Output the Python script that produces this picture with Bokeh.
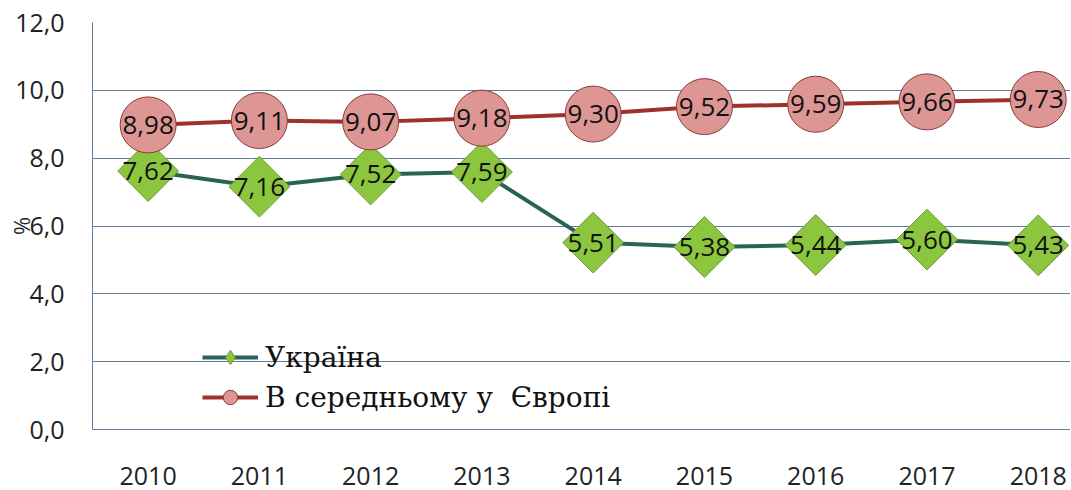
from bokeh.plotting import figure
from bokeh.models import ColumnDataSource, FixedTicker, Legend, LegendItem
from bokeh.core.properties import value
from bokeh.embed import file_html
from bokeh.resources import INLINE

years = [2010, 2011, 2012, 2013, 2014, 2015, 2016, 2017, 2018]
ukraine = [7.62, 7.16, 7.52, 7.59, 5.51, 5.38, 5.44, 5.60, 5.43]
europe = [8.98, 9.11, 9.07, 9.18, 9.30, 9.52, 9.59, 9.66, 9.73]
y_ticks = [0, 2, 4, 6, 8, 10, 12]
y_tick_labels = ["0,0", "2,0", "4,0", "6,0", "8,0", "10,0", "12,0"]
series_names = ["Україна", "В середньому у  Європі"]

def fmt(v):
    return f"{v:.2f}".replace(".", ",")

src_u = ColumnDataSource(dict(x=years, y=ukraine, t=[fmt(v) for v in ukraine]))
src_e = ColumnDataSource(dict(x=years, y=europe, t=[fmt(v) for v in europe]))

p = figure(width=1070, height=490, output_backend="svg", toolbar_location=None,
           x_range=(2009.5, 2018.29), y_range=(0, 12),
           min_border_left=92, min_border_right=0, min_border_top=22,
           min_border_bottom=61, outline_line_color=None)

grid_col = "#5f7b98"
p.xgrid.visible = False
p.ygrid.ticker = FixedTicker(ticks=y_ticks)
p.ygrid.grid_line_color = grid_col
p.ygrid.grid_line_width = 1.2

p.yaxis.ticker = FixedTicker(ticks=y_ticks)
p.yaxis.major_label_overrides = {t: l for t, l in zip(y_ticks, y_tick_labels)}
p.yaxis.major_label_text_font = "Open Sans"
p.yaxis.major_label_text_font_size = "25px"
p.yaxis.major_label_text_color = "#222222"
p.yaxis.major_tick_line_color = None
p.yaxis.minor_tick_line_color = None
p.yaxis.axis_line_color = grid_col
p.yaxis.major_label_standoff = 22
p.yaxis.axis_label = "%"
p.yaxis.axis_label_text_font = "Open Sans"
p.yaxis.axis_label_text_font_style = "normal"
p.yaxis.axis_label_text_font_size = "22px"
p.yaxis.axis_label_text_color = "#222222"
p.yaxis.axis_label_standoff = -24

p.xaxis.ticker = FixedTicker(ticks=years)
p.xaxis.major_label_overrides = {y: str(y) for y in years}
p.xaxis.major_label_text_font = "Open Sans"
p.xaxis.major_label_text_font_size = "25px"
p.xaxis.major_label_text_color = "#222222"
p.xaxis.major_tick_line_color = None
p.xaxis.minor_tick_line_color = None
p.xaxis.axis_line_color = grid_col
p.xaxis.major_label_standoff = 31

u_line, e_line = "#2a6355", "#a0302c"
u_fill, e_fill = "#8cc63f", "#dd9694"
u_edge, e_edge = "#6b9a3a", "#8a3a38"

lu = p.line("x", "y", source=src_u, line_color=u_line, line_width=4)
le = p.line("x", "y", source=src_e, line_color=e_line, line_width=4)
p.scatter("x", "y", source=src_u, marker="square", size=43, angle=0.785398,
          fill_color=u_fill, line_color=u_edge, line_width=1)
p.scatter("x", "y", source=src_e, marker="circle", size=56,
          fill_color=e_fill, line_color=e_edge, line_width=1)

# legend-only marker renderers (not drawn in the plot)
nan = float("nan")
lgu = p.scatter(x=[nan], y=[nan], marker="diamond", size=20,
                fill_color=u_fill, line_color=u_edge)
lge = p.scatter(x=[nan], y=[nan], marker="circle", size=20,
                fill_color=e_fill, line_color=e_edge)

for src in (src_u, src_e):
    p.text("x", "y", text="t", source=src, text_align="center",
           text_baseline="middle", text_font=value("Open Sans"),
           text_font_size="26px", text_color="#111111")

legend = Legend(items=[LegendItem(label=series_names[0], renderers=[lu, lgu]),
                       LegendItem(label=series_names[1], renderers=[le, lge])],
                location=(110, 14), orientation="vertical",
                background_fill_alpha=0, border_line_color=None,
                label_text_font="DejaVu Serif",
                label_text_font_size="28px",
                label_text_color="#111111", glyph_width=56, glyph_height=36,
                label_standoff=7, spacing=4, padding=0, margin=0,
                label_height=36)
p.add_layout(legend)

open("out.html", "w").write(file_html(p, INLINE))
